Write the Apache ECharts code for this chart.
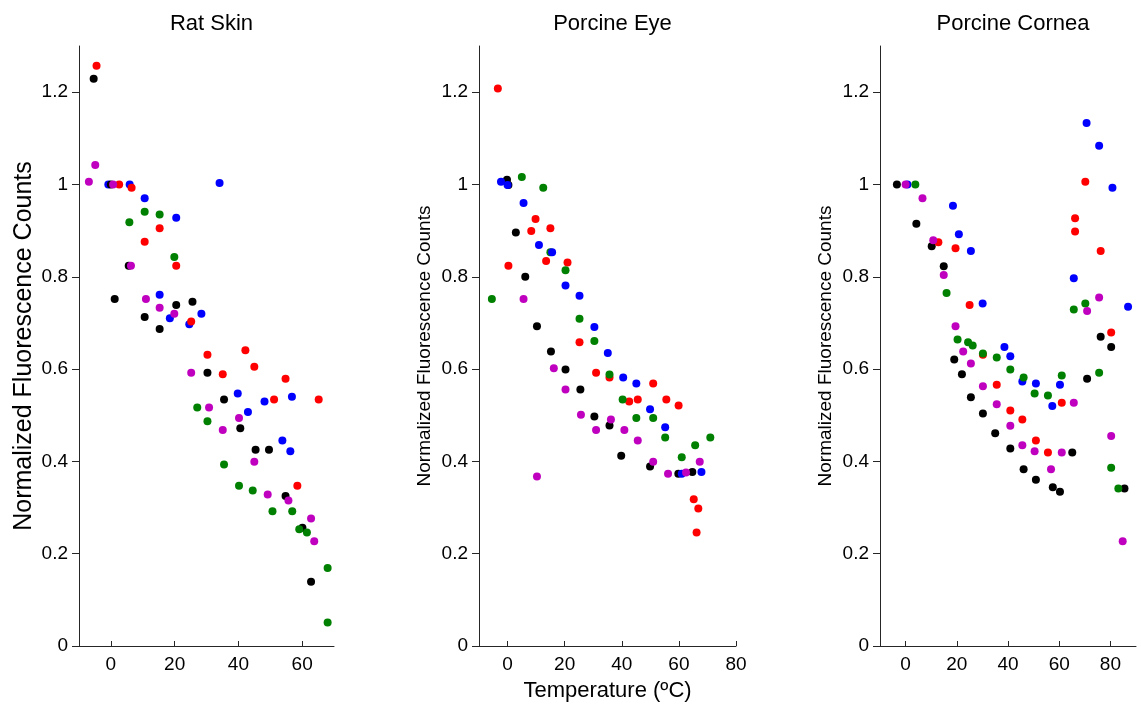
<!DOCTYPE html>
<html>
<head>
<meta charset="utf-8">
<script src="https://cdn.jsdelivr.net/npm/echarts@6/dist/echarts.min.js"></script>
<style>
html,body{margin:0;padding:0;background:#fff;}
#chart{width:1141px;height:709px;}
</style>
</head>
<body>
<div id="chart"></div>
<script>
// ---- Data (temperature °C, normalized fluorescence) ----
const panelTitles = ["Rat Skin", "Porcine Eye", "Porcine Cornea"];
const yTicks = [0, 0.2, 0.4, 0.6, 0.8, 1, 1.2];
const xTicks1 = [0, 20, 40, 60];
const xTicks2 = [0, 20, 40, 60, 80];
const xTicks3 = [0, 20, 40, 60, 80];

const ratBlack = [[-5.4,1.229],[0,1.0],[5.6,0.824],[1.2,0.752],[20.5,0.739],[25.6,0.746],[10.6,0.713],[15.3,0.687],[30.3,0.592],[35.5,0.534],[40.6,0.472],[45.4,0.425],[49.6,0.425],[54.8,0.325],[60.1,0.256],[62.8,0.139]];
const ratRed = [[-4.5,1.257],[2.6,1.0],[6.5,0.993],[15.3,0.905],[10.6,0.876],[20.5,0.824],[25.2,0.703],[30.3,0.631],[42.2,0.641],[45,0.605],[35.1,0.589],[54.8,0.579],[51.2,0.534],[65.2,0.534],[58.5,0.347]];
const ratBlue = [[-0.8,1.0],[5.9,1.0],[10.6,0.970],[20.5,0.928],[15.3,0.761],[28.4,0.720],[18.5,0.710],[24.6,0.697],[34.1,1.003],[39.8,0.547],[56.8,0.540],[48.2,0.530],[43,0.507],[53.8,0.445],[56.3,0.422]];
const ratGreen = [[10.6,0.941],[15.3,0.935],[5.8,0.918],[19.9,0.843],[27.1,0.517],[30.3,0.487],[35.5,0.393],[40.2,0.347],[44.5,0.337],[50.7,0.292],[56.9,0.292],[59.1,0.253],[61.5,0.246],[68,0.169],[68,0.051]];
const ratMagenta = [[-4.9,1.042],[-6.9,1.006],[0.7,1.0],[6.3,0.824],[11,0.752],[15.3,0.733],[19.9,0.720],[25.2,0.592],[30.8,0.517],[40.2,0.494],[35.1,0.468],[45,0.399],[49.2,0.328],[55.7,0.315],[62.8,0.276],[63.8,0.227]];

const eyeBlack = [[-0.2,1.010],[0.3,0.999],[2.9,0.896],[6.2,0.800],[10.3,0.693],[15.2,0.638],[20.3,0.599],[25.5,0.556],[30.4,0.497],[35.7,0.478],[39.8,0.412],[49.9,0.389],[59.8,0.373],[64.7,0.377]];
const eyeRed = [[-3.4,1.208],[9.8,0.925],[8.3,0.899],[15,0.905],[13.5,0.834],[21,0.831],[0.3,0.824],[25.2,0.658],[31,0.592],[35.7,0.582],[51,0.569],[42.6,0.530],[45.6,0.534],[55.6,0.534],[59.9,0.521],[65.2,0.318],[66.8,0.298],[66.2,0.246]];
const eyeBlue = [[-2.3,1.006],[0,0.999],[5.6,0.960],[11,0.869],[15.6,0.853],[20.3,0.781],[25.2,0.759],[30.4,0.691],[35.1,0.635],[40.5,0.582],[45.1,0.569],[49.9,0.513],[55.2,0.474],[61,0.373],[67.9,0.377]];
const eyeGreen = [[-5.5,0.752],[5,1.016],[12.5,0.993],[15,0.853],[20.3,0.814],[25.2,0.709],[30.4,0.661],[35.7,0.588],[40.3,0.534],[45.1,0.494],[51,0.494],[55.2,0.452],[61,0.409],[65.7,0.435],[71,0.452]];
const eyeMagenta = [[5.6,0.752],[10.3,0.367],[16.2,0.602],[20.3,0.556],[25.7,0.501],[31,0.468],[36.2,0.491],[40.9,0.468],[45.6,0.445],[51,0.399],[56.2,0.373],[62.5,0.376],[67.3,0.399]];

const corBlack = [[-3.4,1.0],[4.2,0.915],[10.2,0.866],[14.9,0.823],[19,0.621],[22,0.589],[25.5,0.539],[30.2,0.504],[35,0.461],[40.9,0.428],[46.1,0.383],[50.9,0.360],[57.5,0.344],[60.3,0.334],[65.1,0.419],[70.9,0.579],[76.2,0.670],[80.3,0.648],[85.5,0.341]];
const corRed = [[12.8,0.875],[19.5,0.862],[25,0.739],[30.2,0.631],[35.6,0.566],[40.9,0.510],[45.6,0.491],[50.9,0.445],[55.6,0.419],[61,0.527],[66.2,0.927],[66.2,0.898],[70.2,1.006],[76.2,0.856],[80.3,0.679]];
const corBlue = [[0.7,1.0],[18.5,0.954],[20.8,0.892],[25.5,0.856],[30.1,0.742],[38.6,0.648],[40.9,0.628],[45.6,0.573],[50.9,0.569],[57.3,0.520],[60.3,0.566],[65.7,0.797],[70.7,1.133],[75.6,1.084],[80.8,0.993],[86.9,0.735]];
const corGreen = [[3.8,1.0],[16,0.765],[20.3,0.664],[24.4,0.658],[26.2,0.651],[30.2,0.634],[35.6,0.625],[40.9,0.599],[46.1,0.582],[50.4,0.547],[55.6,0.543],[61,0.586],[65.7,0.729],[70.2,0.742],[75.6,0.592],[80.3,0.386],[83.1,0.341]];
const corMagenta = [[0,1.0],[6.6,0.970],[10.8,0.879],[14.9,0.804],[19.5,0.693],[22.5,0.638],[25.5,0.612],[30.2,0.563],[35.6,0.524],[40.9,0.477],[45.6,0.435],[50.4,0.422],[56.8,0.383],[61,0.419],[65.7,0.527],[70.9,0.726],[75.6,0.755],[80.3,0.455],[84.8,0.227]];

const colors = {black:'#000000', red:'#ff0000', blue:'#0000ff', green:'#008000', magenta:'#bf00bf'};

// ---- Chart ----
const FONT = 'Liberation Sans, Arial, sans-serif';
const AX = '#262626';
const grids = [
  {left: 79, top: 46, width: 255, height: 600},
  {left: 479, top: 46, width: 257, height: 600},
  {left: 880, top: 46, width: 256, height: 600}
];
const xRanges = [[-10,70,xTicks1],[-10,80,xTicks2],[-10,90,xTicks3]];

function xAxisFor(i) {
  const r = xRanges[i];
  return {
    type: 'value', gridIndex: i, min: r[0], max: r[1],
    name: i === 1 ? 'Temperature (\u00baC)' : '',
    nameLocation: 'middle', nameGap: 34,
    nameTextStyle: {fontFamily: FONT, fontSize: 22, color: '#000'},
    axisLine: {show: true, onZero: false, lineStyle: {color: AX, width: 1}},
    axisTick: {show: true, inside: true, length: 5, customValues: r[2], lineStyle: {color: AX}},
    axisLabel: {show: true, customValues: r[2], margin: 9, fontFamily: FONT, fontSize: 19, color: '#000'},
    splitLine: {show: false}
  };
}
function yAxisFor(i) {
  return {
    type: 'value', gridIndex: i, min: 0, max: 1.3,
    name: 'Normalized Fluorescence Counts',
    nameLocation: 'middle', nameRotate: 90,
    nameGap: i === 0 ? 42 : 45,
    nameTextStyle: {fontFamily: FONT, fontSize: i === 0 ? 25 : 19, color: '#000'},
    axisLine: {show: true, onZero: false, lineStyle: {color: AX, width: 1}},
    axisTick: {show: true, inside: false, length: 7, customValues: yTicks, lineStyle: {color: AX}},
    axisLabel: {show: true, customValues: yTicks, margin: 11, fontFamily: FONT, fontSize: 19, color: '#000'},
    splitLine: {show: false}
  };
}

const panelData = [
  [ratBlue, ratBlack, ratRed, ratGreen, ratMagenta],
  [eyeBlack, eyeRed, eyeGreen, eyeBlue, eyeMagenta],
  [corBlack, corBlue, corRed, corGreen, corMagenta]
];
const panelColors = [
  ['blue','black','red','green','magenta'],
  ['black','red','green','blue','magenta'],
  ['black','blue','red','green','magenta']
];

const series = [];
panelData.forEach((sets, i) => {
  sets.forEach((d, j) => {
    series.push({
      type: 'scatter', xAxisIndex: i, yAxisIndex: i,
      data: d, symbol: 'circle', symbolSize: 8,
      itemStyle: {color: colors[panelColors[i][j]], opacity: 1},
      emphasis: {disabled: true}, silent: true
    });
  });
});

const titles = panelTitles.map((t, i) => ({
  text: t,
  left: grids[i].left + grids[i].width / 2,
  top: 8,
  textAlign: 'center',
  textStyle: {fontFamily: FONT, fontSize: 22, fontWeight: 'normal', color: '#000'}
}));

const chart = echarts.init(document.getElementById('chart'), null, {renderer: 'canvas'});
chart.setOption({
  animation: false,
  backgroundColor: '#ffffff',
  title: titles,
  grid: grids,
  xAxis: [0,1,2].map(xAxisFor),
  yAxis: [0,1,2].map(yAxisFor),
  series: series
});
</script>
</body>
</html>
